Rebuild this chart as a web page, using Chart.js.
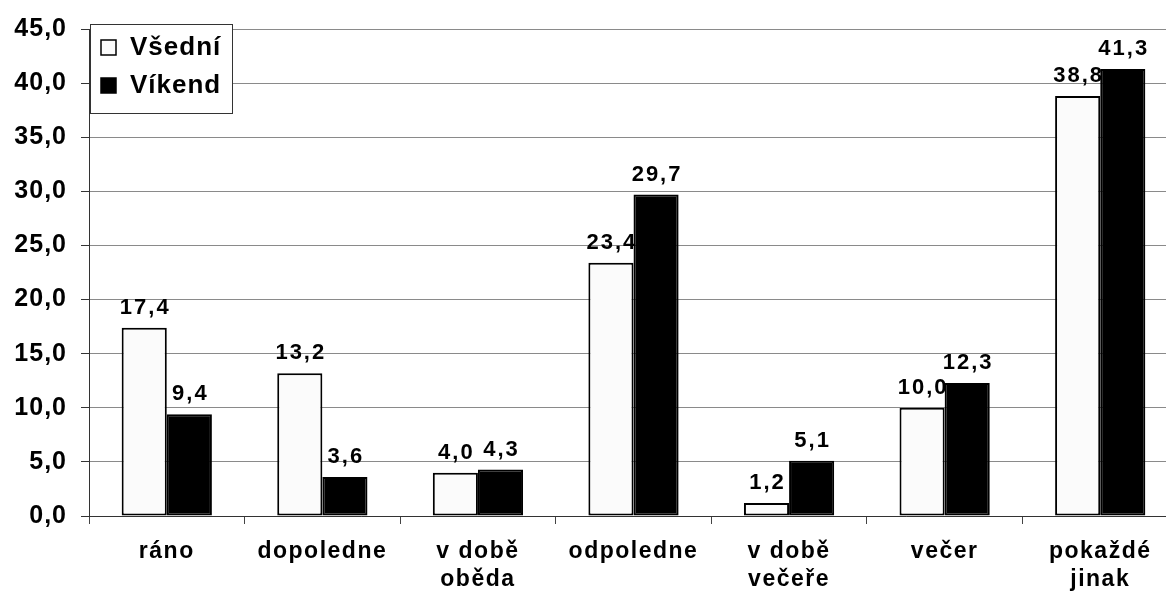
<!DOCTYPE html>
<html>
<head>
<meta charset="utf-8">
<script src="https://cdn.jsdelivr.net/npm/chart.js@4"></script>
<style>
  html, body { margin: 0; padding: 0; background: #fff; overflow: hidden; }
  #wrap { position: relative; width: 1178px; height: 596px; }
</style>
</head>
<body>
<div id="wrap"><canvas id="chart"></canvas></div>
<script>
const categories = ['ráno', 'dopoledne', ['v době', 'oběda'], 'odpoledne', ['v době', 'večeře'], 'večer', ['pokaždé', 'jinak']];
const vsedni = [17.4, 13.2, 4.0, 23.4, 1.2, 10.0, 38.8];
const vikend = [9.4, 3.6, 4.3, 29.7, 5.1, 12.3, 41.3];
const seriesNames = ['Všední', 'Víkend'];
const yTicks = [0, 5, 10, 15, 20, 25, 30, 35, 40, 45];

const fmt = v => v.toFixed(1).replace('.', ',');
const FONT = '"Liberation Sans", Arial, sans-serif';

// value labels above bars
const valueLabels = {
    id: 'valueLabels',
    afterDatasetsDraw(chart) {
        const ctx = chart.ctx;
        ctx.save();
        ctx.font = 'bold 22px ' + FONT;
        ctx.letterSpacing = '2px';
        ctx.fillStyle = '#000';
        ctx.textAlign = 'center';
        ctx.textBaseline = 'bottom';
        chart.data.datasets.forEach((ds, i) => {
            chart.getDatasetMeta(i).data.forEach((bar, j) => {
                ctx.fillText(fmt(ds.data[j]), bar.x + 1, bar.y - 9);
            });
        });
        ctx.restore();
    }
};

// legend box inside the plot, top-left
const boxLegend = {
    id: 'boxLegend',
    afterDraw(chart) {
        const ctx = chart.ctx;
        const x = chart.chartArea.left + 1, y = 24, w = 142, h = 89;
        ctx.save();
        ctx.fillStyle = '#fff';
        ctx.fillRect(x, y, w, h);
        ctx.strokeStyle = '#333';
        ctx.lineWidth = 1;
        ctx.strokeRect(x + 0.5, y + 0.5, w, h);
        ctx.font = 'bold 26px ' + FONT;
        ctx.letterSpacing = '1px';
        ctx.textBaseline = 'middle';
        chart.data.datasets.forEach((ds, i) => {
            const cy = y + 23 + i * 38;
            ctx.fillStyle = ds.backgroundColor;
            ctx.fillRect(x + 11, cy - 7, 15, 15);
            ctx.strokeStyle = '#000';
            ctx.lineWidth = 1.5;
            ctx.strokeRect(x + 11, cy - 7, 15, 15);
            ctx.fillStyle = '#000';
            ctx.fillText(ds.label, x + 40, cy + 1);
        });
        ctx.restore();
    }
};

// letter spacing: a little on everything, a bit more on the category labels
const spacing = {
    id: 'spacing',
    beforeDraw(chart) {
        chart.ctx.letterSpacing = '1px';
        const s = chart.scales.x;
        if (!s._spaced) {
            const orig = s.drawLabels.bind(s);
            s.drawLabels = area => {
                chart.ctx.save();
                chart.ctx.letterSpacing = '1.5px';
                orig(area);
                chart.ctx.restore();
            };
            s._spaced = true;
        }
    }
};

new Chart(document.getElementById('chart'), {
    type: 'bar',
    data: {
        labels: categories,
        datasets: [
            {
                label: seriesNames[0],
                data: vsedni,
                backgroundColor: '#fbfbfb',
                borderColor: '#000',
                borderWidth: 2,
                borderSkipped: false
            },
            {
                label: seriesNames[1],
                data: vikend,
                backgroundColor: '#000',
                borderColor: '#000',
                borderWidth: 2,
                borderSkipped: false
            }
        ]
    },
    options: {
        responsive: true,
        maintainAspectRatio: false,
        animation: false,
        layout: { padding: { top: 27, right: 0, left: 0, bottom: 0 } },
        datasets: { bar: { categoryPercentage: 0.58, barPercentage: 1.0 } },
        scales: {
            x: {
                afterFit(scale) { scale.height = 80; },
                grid: { offset: true, drawOnChartArea: false, drawTicks: true, tickLength: 8, color: '#444' },
                border: { color: '#333', width: 1 },
                ticks: {
                    color: '#000',
                    padding: 13,
                    maxRotation: 0,
                    font: { family: FONT, size: 23, weight: 'bold', lineHeight: 1.25 }
                }
            },
            y: {
                min: 0,
                max: 45,
                afterFit(scale) { scale.width = 89; },
                afterBuildTicks(scale) { scale.ticks = yTicks.map(v => ({ value: v })); },
                grid: { color: '#8a8a8a', lineWidth: 1, tickLength: 8, tickColor: '#333' },
                border: { color: '#333', width: 1 },
                ticks: {
                    color: '#000',
                    padding: 14,
                    font: { family: FONT, size: 25, weight: 'bold' },
                    callback: v => fmt(v)
                }
            }
        },
        plugins: {
            legend: { display: false },
            tooltip: { enabled: false }
        }
    },
    plugins: [spacing, valueLabels, boxLegend]
});
</script>
</body>
</html>
